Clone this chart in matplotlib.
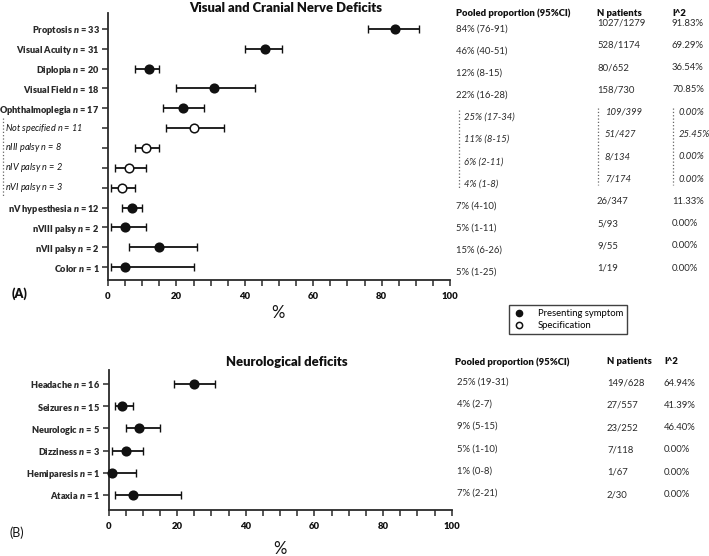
import matplotlib

matplotlib.use("Agg")
import matplotlib.pyplot as plt
from matplotlib.lines import Line2D
from matplotlib.ticker import MultipleLocator

plt.rcParams["font.family"] = ["Lato", "DejaVu Sans"]
plt.rcParams["mathtext.fontset"] = "custom"
plt.rcParams["mathtext.rm"] = "Lato"
plt.rcParams["mathtext.it"] = "Lato:italic"
plt.rcParams["mathtext.bf"] = "Lato:bold"
plt.rcParams["mathtext.bfit"] = "Lato:italic:heavy"

# ---- panel A: visual and cranial nerve deficits ----
a_names = ["Proptosis", "Visual Acuity", "Diplopia", "Visual Field", "Ophthalmoplegia",
           "Not specified", "nIII palsy", "nIV palsy", "nVI palsy",
           "nV hypesthesia", "nVIII palsy", "nVII palsy", "Color"]
a_n = [33, 31, 20, 18, 17, 11, 8, 2, 3, 12, 2, 2, 1]
a_est = [84, 46, 12, 31, 22, 25, 11, 6, 4, 7, 5, 15, 5]
a_lo = [76, 40, 8, 20, 16, 17, 8, 2, 1, 4, 1, 6, 1]
a_hi = [91, 51, 15, 43, 28, 34, 15, 11, 8, 10, 11, 26, 25]
a_spec = [False] * 5 + [True] * 4 + [False] * 4

a_pooled = ["84% (76-91)", "46% (40-51)", "12% (8-15)", "22% (16-28)",
            "25% (17-34)", "11% (8-15)", "6% (2-11)", "4% (1-8)",
            "7% (4-10)", "5% (1-11)", "15% (6-26)", "5% (1-25)"]
a_npat = ["1027/1279", "528/1174", "80/652", "158/730",
          "109/399", "51/427", "8/134", "7/174",
          "26/347", "5/93", "9/55", "1/19"]
a_i2 = ["91.83%", "69.29%", "36.54%", "70.85%",
        "0.00%", "25.45%", "0.00%", "0.00%",
        "11.33%", "0.00%", "0.00%", "0.00%"]
a_txt_italic = [False] * 4 + [True] * 4 + [False] * 4

# ---- panel B: neurological deficits ----
b_names = ["Headache", "Seizures", "Neurologic", "Dizziness", "Hemiparesis", "Ataxia"]
b_n = [16, 15, 5, 3, 1, 1]
b_est = [25, 4, 9, 5, 1, 7]
b_lo = [19, 2, 5, 1, 0, 2]
b_hi = [31, 7, 15, 10, 8, 21]
b_pooled = ["25% (19-31)", "4% (2-7)", "9% (5-15)", "5% (1-10)", "1% (0-8)", "7% (2-21)"]
b_npat = ["149/628", "27/557", "23/252", "7/118", "1/67", "2/30"]
b_i2 = ["64.94%", "41.39%", "46.40%", "0.00%", "0.00%", "0.00%"]

W, H = 709, 556
INK = "#111111"
GREY = "#2a2a2a"
FS = 6.8
LFS = 6.6  # y labels


def fx(x):
    return x / W


def fy(y):
    return 1 - y / H


def forest(ax, names, ns, est, lo, hi, spec, ylim):
    rows = list(range(len(names)))
    for i in rows:
        ax.errorbar(est[i], i, xerr=[[est[i] - lo[i]], [hi[i] - est[i]]], fmt="none",
                    ecolor=INK, elinewidth=1.3, capsize=2.6, capthick=1.0, clip_on=False)
        ax.plot(est[i], i, "o", ms=6.2, mec=INK, mew=1.1,
                mfc="white" if spec[i] else INK, clip_on=False, zorder=5)
    ax.set_xlim(0, 100)
    ax.set_ylim(*ylim)
    ax.set_yticks(rows)
    labels = []
    for nm, n, s in zip(names, ns, spec):
        labels.append("" if s else nm + r" $\mathbfit{n}$ = " + str(n))
    ax.set_yticklabels(labels, fontweight="heavy", fontsize=LFS, color=INK)
    # italic sub-rows are left aligned near the figure edge
    trans = matplotlib.transforms.blended_transform_factory(ax.figure.transFigure, ax.transData)
    for i in rows:
        if spec[i]:
            ax.text(fx(5), i, names[i] + r" $\mathit{n}$ = " + str(ns[i]), transform=trans,
                    fontsize=LFS, style="italic", color=INK, va="center", ha="left")
    ax.xaxis.set_major_locator(MultipleLocator(20))
    ax.xaxis.set_minor_locator(MultipleLocator(5))
    ax.tick_params(axis="both", which="both", direction="out", length=4.5, width=1.1,
                   colors=GREY)
    ax.tick_params(axis="y", pad=1.5)
    ax.tick_params(axis="x", labelsize=FS, pad=4)
    for t in ax.get_xticklabels():
        t.set_fontweight("heavy")
        t.set_color(INK)
    for s in ("top", "right"):
        ax.spines[s].set_visible(False)
    for s in ("left", "bottom"):
        ax.spines[s].set_linewidth(1.3)
        ax.spines[s].set_color(GREY)


fig = plt.figure(figsize=(W / 100, H / 100), dpi=100)

ax1 = fig.add_axes([fx(108), fy(280), (450 - 108) / W, (280 - 13) / H])
forest(ax1, a_names, a_n, a_est, a_lo, a_hi, a_spec, (12.65, -0.8))

ax2 = fig.add_axes([fx(108.5), fy(510), (451.7 - 108.5) / W, (510 - 370) / H])
forest(ax2, b_names, b_n, b_est, b_lo, b_hi, [False] * len(b_names), (5.68, -0.63))

# titles, axis labels, panel letters
fig.text(fx(286), fy(8), "Visual and Cranial Nerve Deficits", fontsize=9.4,
         fontweight="heavy", ha="center", va="center", color=INK)
fig.text(fx(287), fy(362), "Neurological deficits", fontsize=9.4,
         fontweight="heavy", ha="center", va="center", color=INK)
fig.text(fx(278), fy(313), "%", fontsize=12, ha="center", va="center", color=INK)
fig.text(fx(280), fy(549), "%", fontsize=12, ha="center", va="center", color=INK)
fig.text(fx(12), fy(294), "(A)", fontsize=9, fontweight="heavy", va="center", color=INK)
fig.text(fx(10), fy(533), "(B)", fontsize=9, va="center", color=INK)

# dotted bracket for the ophthalmoplegia subtypes on the left
fig.add_artist(Line2D([fx(3), fx(3)], [fy(118), fy(197)], ls=":", lw=0.9, color="#666666"))

# ---- table columns, panel A ----
for x, head in ((456, "Pooled proportion (95%CI)"), (597, "N patients"), (672, "I^2")):
    fig.text(fx(x), fy(13), head, fontsize=FS, fontweight="heavy", va="center", color=INK)

pooled_y = [29 + 22.1 * i for i in range(len(a_pooled))]
side_y = [23 + 22.3 * i for i in range(len(a_npat))]
for i, it in enumerate(a_txt_italic):
    st = "italic" if it else "normal"
    fig.text(fx(464 if it else 456), fy(pooled_y[i]), a_pooled[i], fontsize=FS,
             style=st, va="center", color=GREY)
    fig.text(fx(605 if it else 597), fy(side_y[i]), a_npat[i], fontsize=FS,
             style=st, va="center", color=GREY)
    fig.text(fx(679 if it else 672), fy(side_y[i]), a_i2[i], fontsize=FS,
             style=st, va="center", color=GREY)

for x, y0, y1 in ((459, 110, 188), (598, 108, 185), (673, 108, 185)):
    fig.add_artist(Line2D([fx(x), fx(x)], [fy(y0), fy(y1)], ls=":", lw=0.9, color="#666666"))

# legend
handles = [Line2D([], [], ls="none", marker="o", ms=4.5, mfc=INK, mec=INK),
           Line2D([], [], ls="none", marker="o", ms=4.5, mfc="white", mec=INK, mew=1.1)]
leg = fig.legend(handles, ["Presenting symptom", "Specification"], loc="upper left",
                 bbox_to_anchor=(fx(509), fy(305)), fontsize=FS, frameon=True,
                 fancybox=False, edgecolor=INK, borderpad=0.45, labelspacing=0.3,
                 handlelength=1.2, handletextpad=1.4, borderaxespad=0)
leg.get_frame().set_linewidth(1.0)

# ---- table columns, panel B ----
for x, head in ((455, "Pooled proportion (95%CI)"), (607, "N patients"), (664, "I^2")):
    fig.text(fx(x), fy(362), head, fontsize=FS, fontweight="heavy", va="center", color=INK)

for i in range(len(b_pooled)):
    fig.text(fx(457), fy(382 + 22.2 * i), b_pooled[i], fontsize=FS, va="center", color=GREY)
    fig.text(fx(607), fy(383 + 22.3 * i), b_npat[i], fontsize=FS, va="center", color=GREY)
    fig.text(fx(664), fy(383 + 22.3 * i), b_i2[i], fontsize=FS, va="center", color=GREY)

fig.savefig("out.png", dpi=100, facecolor="white")
